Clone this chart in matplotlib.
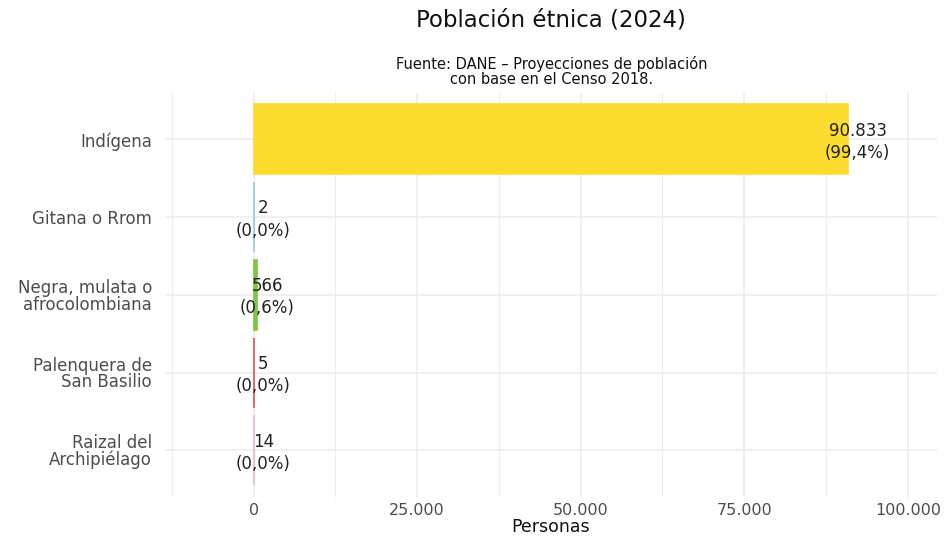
import numpy as np
import matplotlib.pyplot as plt
from matplotlib.ticker import MultipleLocator, FuncFormatter

# Datos
categorias = ["Indígena", "Gitana o Rrom", "Negra, mulata o\nafrocolombiana",
              "Palenquera de\nSan Basilio", "Raizal del\nArchipiélago"]
personas = [90833, 2, 566, 5, 14]
porcentajes = ["99,4%", "0,0%", "0,6%", "0,0%", "0,0%"]
colores = ["#FDDC30", "#8FCBEA", "#7CC644", "#EE4B4B", "#F6B5D8"]

plt.rcParams['font.family'] = ['DejaVu Sans']

fig = plt.figure(figsize=(9.46, 5.39), dpi=100)
ax = fig.add_axes([0.174, 0.078, 0.816, 0.75])

y = np.arange(len(categorias))
# borde del mismo color para que las barras pequeñas se vean como líneas finas
ax.barh(y, personas, height=0.9, color=colores, edgecolor=colores,
        linewidth=1.2, zorder=2)

def miles(v, pos):
    return f"{int(v):,}".replace(",", ".")

for yi, v, p in zip(y, personas, porcentajes):
    ax.text(v + 1500, yi + 0.03, f"{miles(v, None)}\n({p})", ha="center", va="center",
            fontsize=12, color="#222222", linespacing=1.3, zorder=3)

ax.set_ylim(len(categorias) - 0.4, -0.6)
ax.set_xlim(-13600, 104400)
ax.set_yticks(y)
ax.set_yticklabels(categorias, fontsize=12, color="#4d4d4d", linespacing=0.92)
ax.xaxis.set_major_locator(MultipleLocator(25000))
ax.xaxis.set_minor_locator(MultipleLocator(12500))
ax.xaxis.set_major_formatter(FuncFormatter(miles))
ax.tick_params(axis="x", labelsize=11.5, labelcolor="#4d4d4d", length=0, pad=4)
ax.tick_params(axis="y", length=0, pad=9)
ax.tick_params(which="minor", length=0)

ax.grid(True, which="major", color="#ebebeb", linewidth=1.1, zorder=0)
ax.grid(True, which="minor", axis="x", color="#ededed", linewidth=0.8, zorder=0)
ax.set_axisbelow(True)
for s in ax.spines.values():
    s.set_visible(False)

ax.set_xlabel("Personas", fontsize=12.5, color="#111111", labelpad=0)

fig.text(0.582, 0.962, "Población étnica (2024)", ha="center", va="center",
         fontsize=16.5, color="#111111")
fig.text(0.583, 0.867, "Fuente: DANE – Proyecciones de población\ncon base en el Censo 2018.",
         ha="center", va="center", fontsize=10.5, color="#111111", linespacing=0.95)

fig.savefig("out.png", dpi=100)
